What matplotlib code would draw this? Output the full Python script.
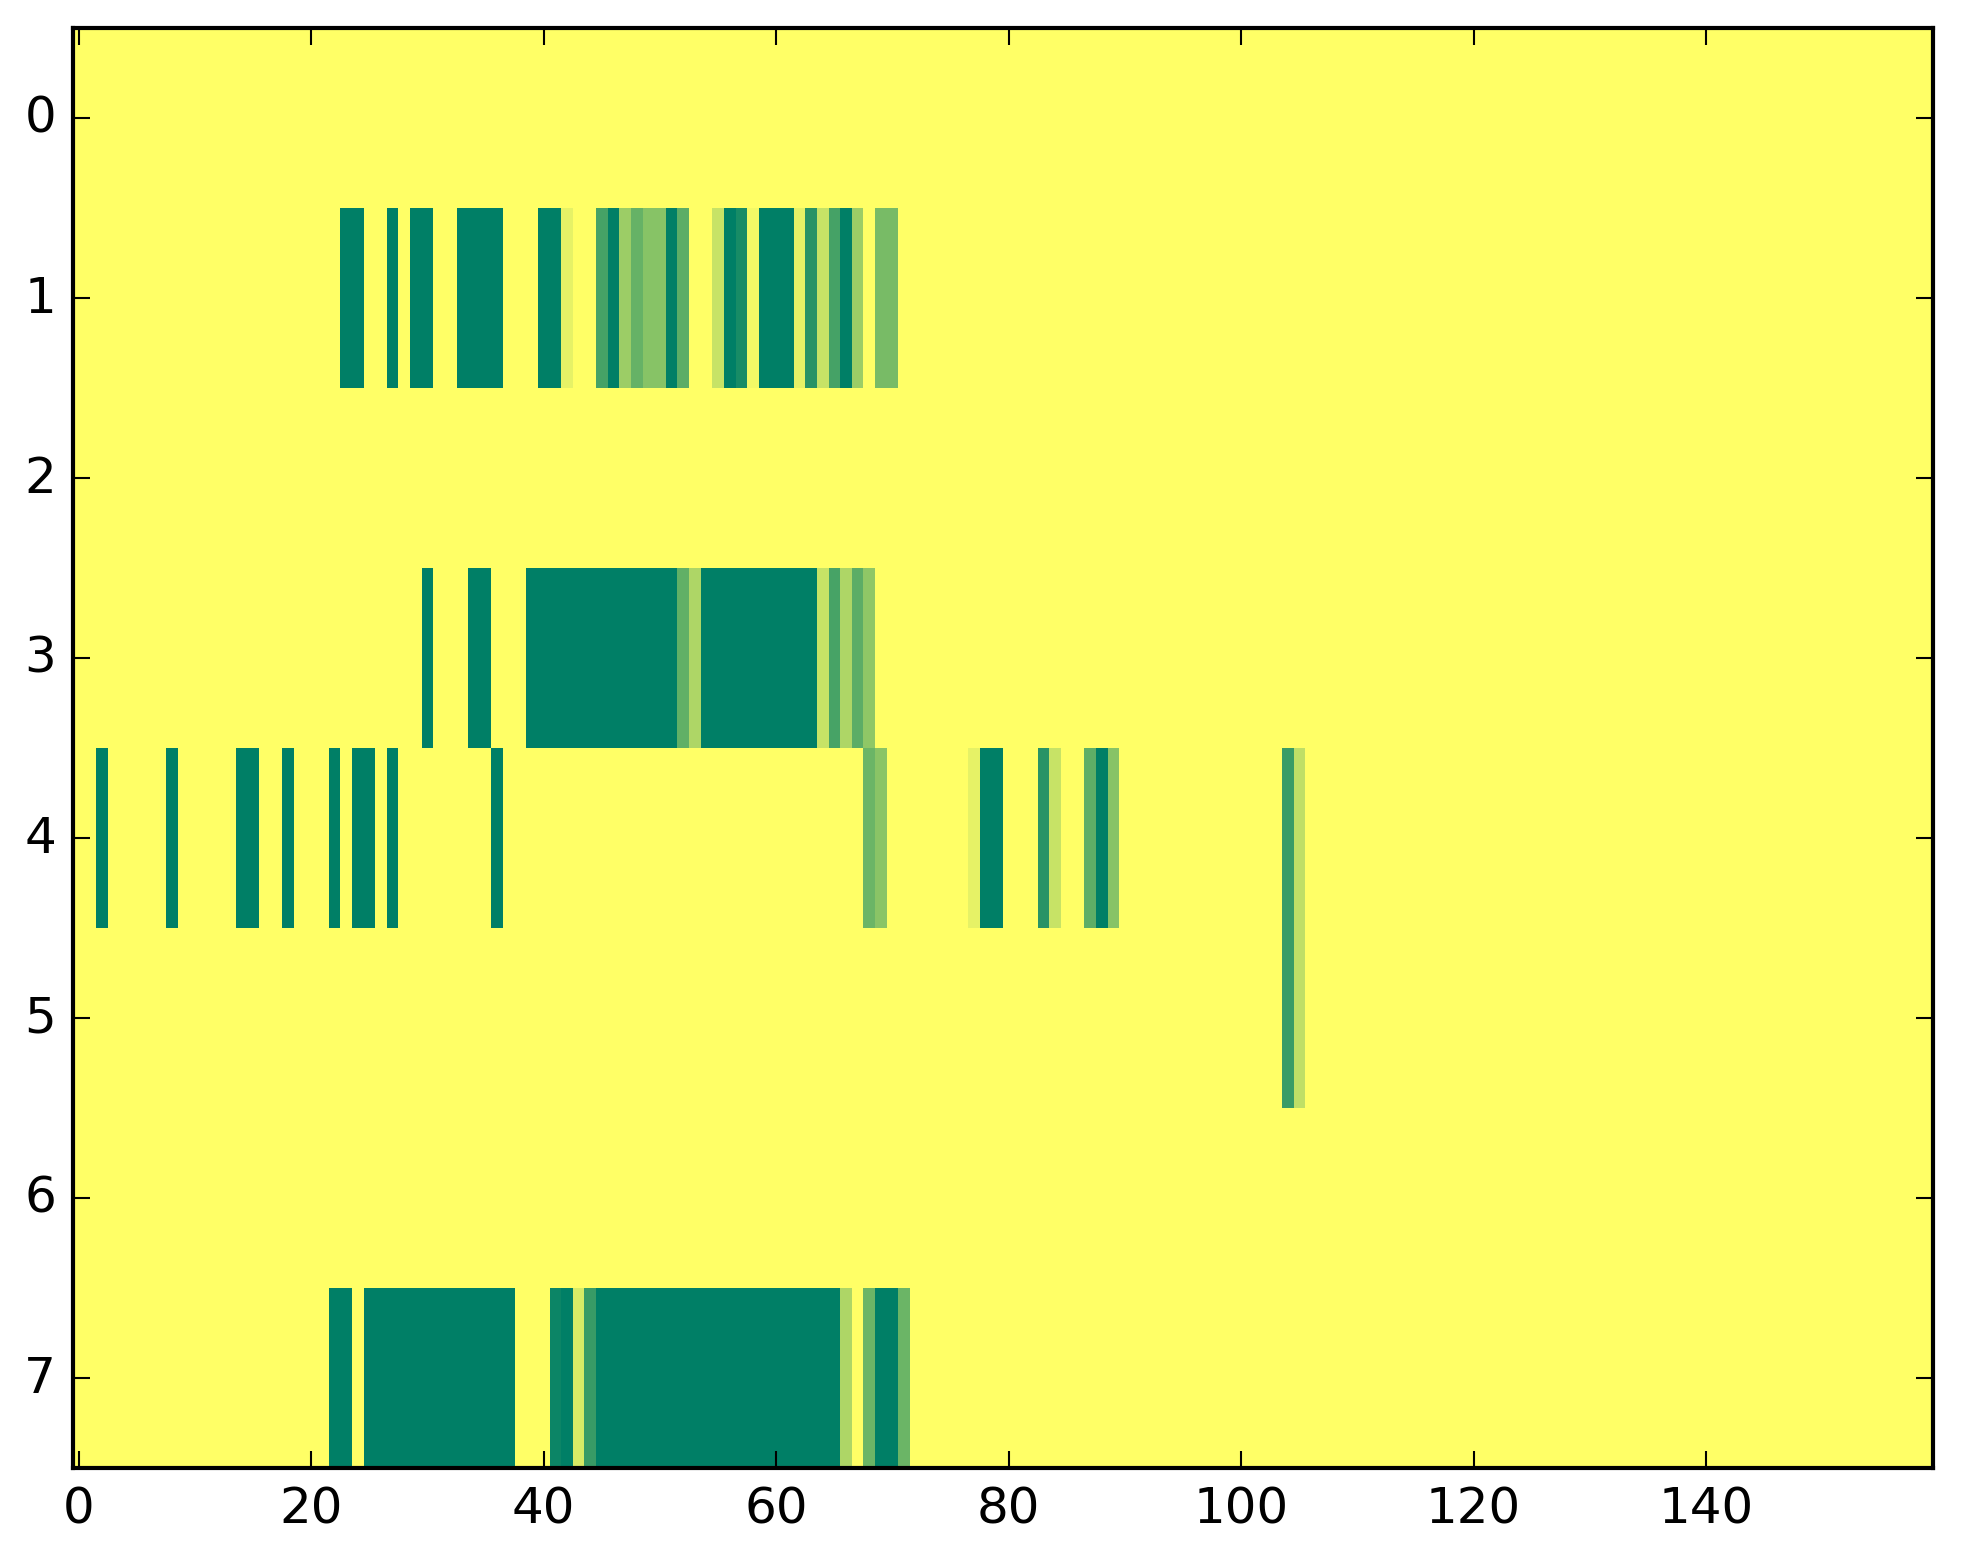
import numpy as np
import matplotlib
matplotlib.use('Agg')
import matplotlib.pyplot as plt

plt.style.use('classic')

n_rows = 8
n_cols = 160

# sparse rows: column index -> value (0 = yellow, 1 = dark green)
row1_cols = [23, 24, 27, 29, 30, 33, 34, 35, 36, 40, 41, 42, 45, 46, 47, 48, 49, 50,
             51, 52, 55, 56, 57, 58, 59, 60, 61, 62, 63, 64, 65, 66, 67, 69, 70]
row1_vals = [1, 1, 1, 1, 1, 1, 1, 1, 1, 1, 1, 0.1, 0.73, 1, 0.39, 0.6, 0.47, 0.47,
             1, 0.64, 0.22, 1, 0.9, 0.05, 1, 1, 1, 0.1, 0.84, 0.22, 0.73, 1, 0.39, 0.53, 0.53]

row3_cols = [30, 34, 35] + list(range(39, 52)) + [52, 53] + list(range(54, 64)) + [64, 65, 66, 67, 68]
row3_vals = [1, 1, 1] + [1] * 13 + [0.62, 0.32] + [1] * 10 + [0.22, 0.72, 0.32, 0.64, 0.44]

row4_cols = [2, 8, 14, 15, 18, 22, 24, 25, 27, 36, 68, 69, 77, 78, 79, 83, 84, 87, 88, 89, 104, 105]
row4_vals = [1, 1, 1, 1, 1, 1, 1, 1, 1, 1, 0.58, 0.46, 0.1, 1, 1, 0.84, 0.22, 0.63, 1, 0.47, 0.77, 0.25]

row5_cols = [104, 105]
row5_vals = [0.77, 0.25]

row7_cols = [22, 23] + list(range(25, 38)) + [41, 42, 43, 44] + list(range(45, 66)) + [66, 68, 69, 70, 71]
row7_vals = [1, 1] + [1] * 13 + [0.95, 1, 0.16, 0.78] + [1] * 21 + [0.32, 0.58, 1, 1, 0.58]

grid = np.zeros((n_rows, n_cols))
for r, cols, vals in [(1, row1_cols, row1_vals), (3, row3_cols, row3_vals),
                      (4, row4_cols, row4_vals), (5, row5_cols, row5_vals),
                      (7, row7_cols, row7_vals)]:
    grid[r, cols] = vals

fig = plt.figure(figsize=(1963 / 300, 1564 / 300), dpi=300, facecolor='white')
ax = fig.add_axes([72.7 / 1963, 95.3 / 1564, 1860 / 1963, 1440 / 1564])
ax.imshow(grid, cmap='summer_r', vmin=0, vmax=1, interpolation='nearest', aspect='auto')
ax.set_xlim(-0.5, n_cols - 0.5)
ax.set_ylim(n_rows - 0.5, -0.5)

fig.savefig('out.png', dpi=300, facecolor='white')
